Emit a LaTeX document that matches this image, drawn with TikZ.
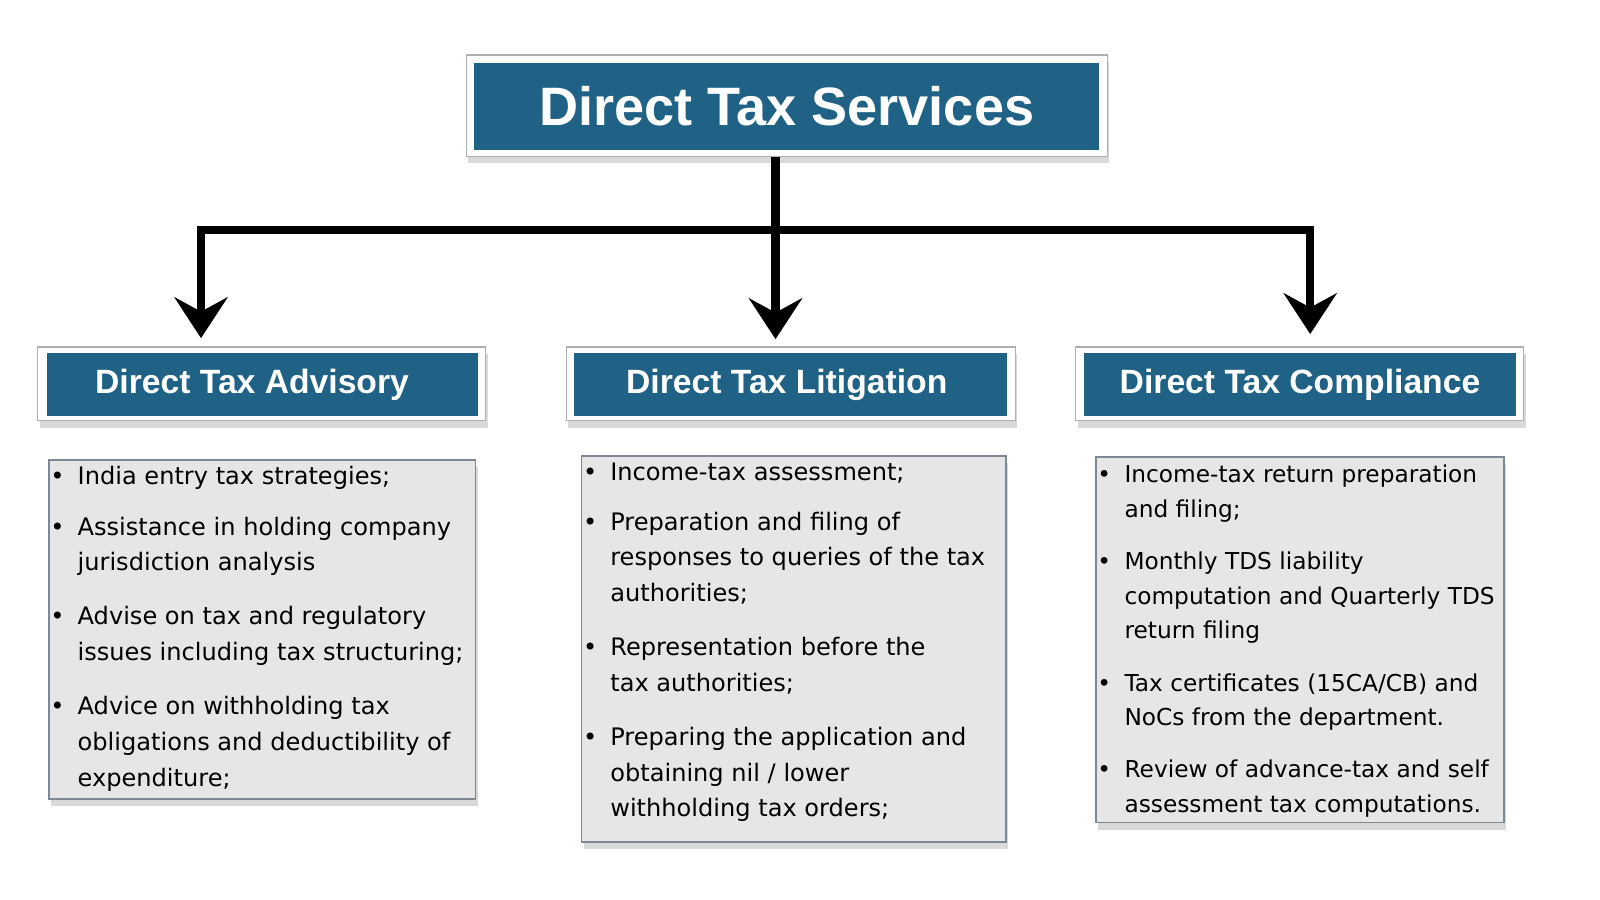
\documentclass[tikz,border=0pt]{standalone}
\usepackage{fontspec}
\setmainfont{DejaVu Sans}
\newfontfamily\headfont{Liberation Sans}
\usetikzlibrary{arrows.meta,shadows,positioning}
\definecolor{headblue}{RGB}{31,98,134}
\definecolor{listgray}{RGB}{230,230,230}
\definecolor{listedge}{RGB}{125,135,150}
\definecolor{frameedge}{RGB}{175,175,175}

\begin{document}
\begin{tikzpicture}[
    x=0.5pt, y=-0.5pt,
    frame/.style={rectangle, draw=frameedge, fill=white, line width=0.6pt,
                  drop shadow={shadow xshift=1pt, shadow yshift=-3.5pt, opacity=0.3}},
    head/.style={rectangle, fill=headblue, text=white, inner sep=0pt,
                 font=\headfont\bfseries\fontsize{16.5}{20}\selectfont},
    listbox/.style={rectangle, draw=listedge, fill=listgray, line width=0.8pt,
                    drop shadow={shadow xshift=1pt, shadow yshift=-3.5pt, opacity=0.3}},
    listtext/.style={anchor=north west, inner sep=0pt, font=\fontsize{11.8}{17.5}\selectfont},
    line/.style={draw, line width=4pt, -{Stealth[length=20pt, width=26pt, inset=7pt]}}
]
\useasboundingbox (0,0) rectangle (1568,882);

% Top box
\node [frame, minimum width=314pt, minimum height=49.5pt] (topframe) at (771,103.5) {};
\node [head, minimum width=306pt, minimum height=42.5pt,
       font=\headfont\bfseries\fontsize{26.5}{30}\selectfont] (top) at (771,104.5) {Direct Tax Services};

% Second level boxes
\node [frame, minimum width=219.5pt, minimum height=36pt] (advframe) at (256.5,376) {};
\node [head, minimum width=211pt, minimum height=31pt] (adv) at (257,377) {Direct Tax Advisory\hspace*{10pt}};
\node [frame, minimum width=220pt, minimum height=36pt] (litframe) at (775,376) {};
\node [head, minimum width=212pt, minimum height=31pt] (lit) at (775,377) {Direct Tax Litigation\hspace*{4pt}};
\node [frame, minimum width=219.5pt, minimum height=36pt] (comframe) at (1273.5,376) {};
\node [head, minimum width=212pt, minimum height=31pt] (com) at (1274,377) {Direct Tax Compliance};

% Connectors
\coordinate (split) at (760,225);
\coordinate (lbend) at (197,225);
\coordinate (rbend) at (1284,225);
\draw [line] (topframe.south -| split) -- ([yshift=3.5pt]split |- litframe.north);
\draw [line] (split) -- (lbend) -- ([yshift=4pt]lbend |- advframe.north);
\draw [line] (split) -- (rbend) -- ([yshift=6pt]rbend |- comframe.north);

% Lists
\node [listbox, minimum width=209pt, minimum height=166pt] (advlist) at (257,617) {};
\node [listbox, minimum width=208pt, minimum height=189pt] (litlist) at (778,636) {};
\node [listbox, minimum width=200pt, minimum height=179pt] (comlist) at (1274,627) {};

\node [listtext] (advtext) at (49,449.5) {%
\begin{tabular}{@{}l@{\hspace{6.4pt}}l@{}}
\textbullet & India entry tax strategies;\\[7.5pt]
\textbullet & Assistance in holding company\\
            & jurisdiction analysis\\[9pt]
\textbullet & Advise on tax and regulatory\\
            & issues including tax structuring;\\[9pt]
\textbullet & Advice on withholding tax\\
            & obligations and deductibility of\\
            & expenditure;
\end{tabular}};

\node [listtext] (littext) at (571,445.5) {%
\begin{tabular}{@{}l@{\hspace{6.4pt}}l@{}}
\textbullet & Income-tax assessment;\\[7pt]
\textbullet & Preparation and filing of\\
            & responses to queries of the tax\\
            & authorities;\\[9pt]
\textbullet & Representation before the\\
            & tax authorities;\\[9pt]
\textbullet & Preparing the application and\\
            & obtaining nil / lower\\
            & withholding tax orders;
\end{tabular}};

\node [listtext, font=\fontsize{11.4}{17}\selectfont] (comtext) at (1075,449) {%
\begin{tabular}{@{}l@{\hspace{6.6pt}}l@{}}
\textbullet & Income-tax return preparation\\
            & and filing;\\[8.5pt]
\textbullet & Monthly TDS liability\\
            & computation and Quarterly TDS\\
            & return filing\\[8.5pt]
\textbullet & Tax certificates (15CA/CB) and\\
            & NoCs from the department.\\[8.5pt]
\textbullet & Review of advance-tax and self\\
            & assessment tax computations.
\end{tabular}};

\end{tikzpicture}
\end{document}
